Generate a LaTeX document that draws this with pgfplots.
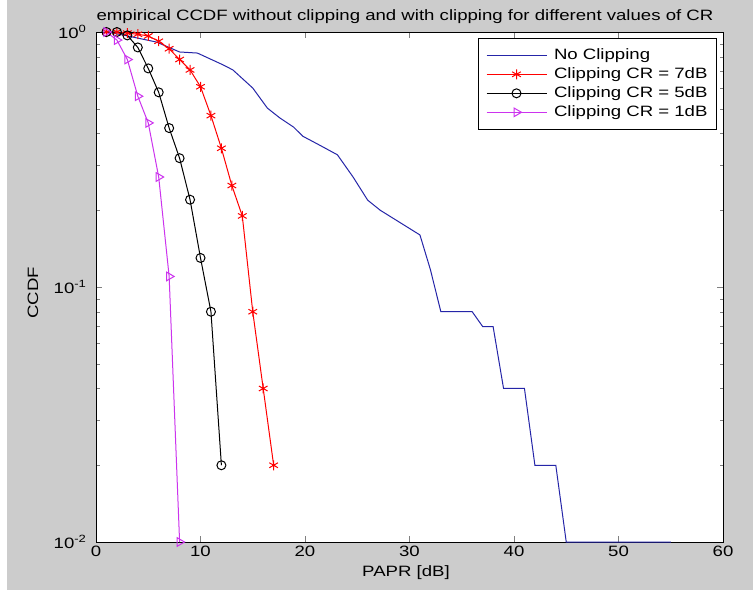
\documentclass[border=0pt]{standalone}
\usepackage{fontspec}
\setmainfont[FakeStretch=1.24]{Liberation Sans}
\usepackage{pgfplots}
\pgfplotsset{compat=1.18}
\definecolor{figgray}{HTML}{CCCCCC}
\definecolor{mblue}{HTML}{2525A8}
\definecolor{mmag}{HTML}{CC33EE}
\newcommand\fs{\fontsize{15pt}{18pt}\selectfont}

\begin{document}
\begin{tikzpicture}[font=\fs]
% figure background (MATLAB grey)
\fill[white] (0pt,0pt) rectangle (753pt,590pt);
\fill[figgray] (7pt,0pt) rectangle (753pt,590pt);

\begin{axis}[
    at={(96pt,48pt)}, anchor=south west,
    scale only axis,
    width=627pt, height=510pt,
    xmin=0, xmax=60,
    ymode=log, ymin=0.01, ymax=1,
    xtick={0,10,20,30,40,50,60},
    ytick={0.01,0.1,1},
    yticklabels={10\textsuperscript{-2},10\textsuperscript{-1},10\textsuperscript{0}},
    /pgf/number format/assume math mode=true,
    tick label style={font=\fs},
    yticklabel style={xshift=-6pt},
    tick align=inside,
    major tick length=6pt, minor tick length=3.5pt,
    axis line style={line width=0.8pt},
    axis background/.style={fill=white},
    clip=false,
    legend style={at={(0.99,0.988)}, anchor=north east, draw=black, fill=white,
        font=\fs, inner xsep=8pt, inner ysep=9pt, row sep=3pt, column sep=6pt,
        nodes={inner sep=1pt, text height=11pt, text depth=3pt}},
    legend cell align=left,
    legend image code/.code={\draw[mark repeat=2,mark phase=2,#1] plot coordinates {(0pt,0pt) (30pt,0pt) (60pt,0pt)};},
]

% No clipping
\addplot[mblue, line width=1pt] coordinates {
    (1,1) (2.6,0.973) (5.8,0.913) (8.0,0.835) (9.7,0.827) (12.2,0.742)
    (13.1,0.71) (15.0,0.603) (16.4,0.503) (17.6,0.46) (18.9,0.424)
    (19.8,0.39) (21.4,0.36) (23.1,0.33) (24.6,0.27) (26.0,0.219)
    (27.2,0.2) (31,0.16) (32,0.117) (33,0.08) (36,0.08) (37,0.07)
    (38,0.07) (39,0.04) (41,0.04) (42,0.02) (44,0.02) (45,0.01) (55,0.01)
};
\addlegendentry{No Clipping}

% CR = 7dB
\addplot[red, line width=1pt, mark=asterisk, mark size=5pt] coordinates {
    (1,1) (2,1) (3,0.99) (4,0.98) (5,0.965) (6,0.92) (7,0.86) (8,0.78)
    (9,0.71) (10,0.61) (11,0.47) (12,0.35) (13,0.25) (14,0.19)
    (15,0.08) (16,0.04) (17,0.02)
};
\addlegendentry{Clipping CR = 7dB}

% CR = 5dB
\addplot[black, line width=1pt, mark=o, mark size=4.5pt] coordinates {
    (1,1) (2,1) (3,0.97) (4,0.87) (5,0.72) (6,0.58) (7,0.42) (8,0.32)
    (9,0.22) (10,0.13) (11,0.08) (12,0.02)
};
\addlegendentry{Clipping CR = 5dB}

% CR = 1dB
\addplot[mmag, line width=1pt, mark=triangle, mark size=5pt, mark options={rotate=-90}] coordinates {
    (1,1) (2,0.93) (3,0.78) (4,0.56) (5,0.44) (6,0.27) (7,0.11) (8,0.01)
};
\addlegendentry{Clipping CR = 1dB}

\end{axis}

\node at (405pt,573pt) {empirical CCDF without clipping and with clipping for different values of CR};
\node at (406pt,17pt) {PAPR [dB]};
\node[rotate=90] at (33pt,297pt) {CCDF};
\end{tikzpicture}
\end{document}
